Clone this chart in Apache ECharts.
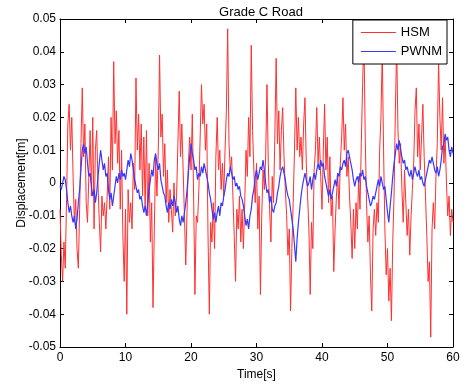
<!DOCTYPE html>
<html>
<head>
<meta charset="utf-8">
<script src="https://cdn.jsdelivr.net/npm/echarts@6/dist/echarts.min.js"></script>
<style>html,body{margin:0;padding:0;background:#fff}#c{width:474px;height:389px}</style>
</head>
<body>
<div id="c"></div>
<script>
var title = 'Grade C Road';
var seriesNames = ['HSM', 'PWNM'];
var timeStep = 0.2; // s
var xTicks = [0, 10, 20, 30, 40, 50, 60];
var yTicks = [-0.05, -0.04, -0.03, -0.02, -0.01, 0, 0.01, 0.02, 0.03, 0.04, 0.05];
// displacement values in millimetres, one per 0.2 s
var hsmMm = [
-8,-22,-30,-18,-26, -5,18,24,10,20, 2,-12,-5,-20,-26, -8,12,29,8,18,
-6,-12,2,16,-4, 20,-14,10,16,0, -12,-21,-4,-10,-6, -14,-4,8,-8,20,
4,37,12,22,6, 16,-8,10,-16,-30, -8,-40,-2,-12,-6, -14,6,-2,32,10,
21,4,18,-4,14, -8,16,-10,6,-18, -6,-38,-14,8,-4, 10,39,14,21,2,
12,-6,4,-12,-2, -8,-15,0,-10,-4, 12,28,8,18,4, -10,-25,-8,6,14,
4,21,-4,-34,-10, -12,-2,14,30,18, 24,10,18,-16,-40, -12,-18,-6,-20,8,
20,4,10,-2,6, -4,10,22,47,12, 4,8,-4,-16,-30, -8,-14,-4,-18,-8,
-20,-6,10,2,20, 8,42,16,4,-6, 6,-14,-4,-34,-10, 4,-2,8,30,6,
-8,-18,2,-6,14, 38,12,22,4,16, 23,8,-2,-10,-22, -14,-39,-20,-6,10,
29,10,20,8,14, 4,18,26,6,-4, -14,-34,-12,-20,4, 10,23,6,14,2,
-8,10,24,4,14, -6,8,-10,-4,-27, -14,-4,2,-8,6, 14,26,10,18,2,
8,-4,-12,-23,-8, -20,-6,-14,2,-8, 12,30,45,14,-6, -18,-10,-28,-39,-14,
-8,-16,-6,-12,10, 20,40,10,-14,-28, -20,-36,-26,-42,-18, -4,22,42,16,6,
12,-2,-12,4,-6, -16,-8,-22,-10,-2, 6,22,29,8,18, 4,14,24,8,-4,
-16,-30,-24,-47,-14, -6,-14,2,12,37, 20,10,26,6,14, 0,-10,-4,-16,-8,
-12];
var pwnmMm = [
-1,-2,0,2,1, -2,-6,-9,-7,-10, -12,-10,-14,-11,-6, -2,4,10,12,9,
11,6,2,3,-1, -4,-2,-6,-3,2, 6,10,7,4,6, 2,3,-2,-5,-3,
-7,-4,-1,2,0, 3,1,4,2,3, 1,4,7,5,9, 7,4,1,-1,-3,
-2,-5,-4,-7,-9, -7,-10,-6,-2,1, 4,2,7,9,6, 4,6,1,-1,-3,
-4,-7,-9,-6,-8, -5,-7,-4,-6,-9, -7,-11,-13,-10,-12, -9,-6,-2,3,8,
12,9,7,4,5, 1,3,2,5,3, 6,4,2,0,-3, -5,-8,-11,-9,-12,
-9,-7,-10,-6,-7, -4,-2,1,3,2, 5,3,1,2,-1, 0,-2,-1,-4,-5,
-7,-10,-13,-11,-14, -10,-8,-4,-2,2, 4,1,3,5,4, 7,4,0,-3,-2,
-6,-4,-8,-9,-7, -6,-3,-1,2,4, 5,3,1,-2,-4, -5,-8,-11,-14,-19,
-24,-17,-12,-8,-4, -1,1,3,1,-1, 0,2,-2,1,3, 1,4,6,4,7,
5,6,2,0,-2, -4,-2,-5,-3,-1, 1,-1,3,2,5, 4,6,7,5,9,
10,8,6,4,1, -1,1,2,0,3, 2,4,1,2,-1, -3,-5,-7,-6,-4,
-5,-3,-1,1,-1, 2,0,-2,-1,-5, -9,-12,-7,-3,2, 6,9,12,10,13,
10,8,6,7,4, 5,3,2,4,1, 3,5,3,2,4, 1,2,0,-1,1,
3,5,7,6,8, 6,4,3,5,2, 4,7,11,12,15, 13,14,10,8,11,
9];

function toPairs(arr) {
  return arr.map(function (v, i) { return [+(i * timeStep).toFixed(2), v / 1000]; });
}
var font = 'Liberation Sans, Arial, Helvetica, sans-serif';
var chart = echarts.init(document.getElementById('c'), null, {renderer: 'canvas'});
function yFmt(v) { return Math.abs(v) < 1e-9 ? '0' : v.toFixed(2); }
var axisCommon = {
  axisLine: {show: true, onZero: false, lineStyle: {color: '#000', width: 1}},
  axisTick: {show: true, inside: true, length: 4, lineStyle: {color: '#000'}},
  splitLine: {show: false}
};
var redColor = '#ff3030';
var blueColor = '#3838ff';
chart.setOption({
  animation: false,
  backgroundColor: '#fff',
  title: {
    text: title, left: 256, top: 1, textAlign: 'center',
    textStyle: {fontFamily: font, fontSize: 13, fontWeight: 'normal', color: '#000'}
  },
  grid: {left: 60, right: 21, top: 19, bottom: 42, containLabel: false},
  legend: {
    data: seriesNames.map(function (n) { return {name: n, icon: 'rect'}; }),
    orient: 'vertical', right: 27, top: 20,
    backgroundColor: '#fff', borderColor: '#000', borderWidth: 1,
    padding: [6, 5, 6, 8], itemGap: 6, itemWidth: 35, itemHeight: 1,
    textStyle: {fontFamily: font, fontSize: 13, color: '#000', lineHeight: 12}
  },
  xAxis: [
    Object.assign({
      type: 'value', min: xTicks[0], max: xTicks[xTicks.length - 1], interval: 10,
      name: 'Time[s]', nameLocation: 'middle', nameGap: 20,
      nameTextStyle: {fontFamily: font, fontSize: 12, color: '#000'},
      axisLabel: {fontFamily: font, fontSize: 12, color: '#000', margin: 5}
    }, axisCommon),
    Object.assign({
      type: 'value', position: 'top', min: xTicks[0], max: xTicks[xTicks.length - 1], interval: 10,
      axisLabel: {show: false}
    }, axisCommon)
  ],
  yAxis: [
    Object.assign({
      type: 'value', min: yTicks[0], max: yTicks[yTicks.length - 1], interval: 0.01,
      name: 'Displacement[m]', nameLocation: 'middle', nameGap: 32, nameMoveOverlap: false,
      nameTextStyle: {fontFamily: font, fontSize: 12, color: '#000'},
      axisLabel: {fontFamily: font, fontSize: 12, color: '#000', margin: 4, formatter: yFmt}
    }, axisCommon),
    Object.assign({
      type: 'value', position: 'right', min: yTicks[0], max: yTicks[yTicks.length - 1], interval: 0.01,
      axisLabel: {show: false}
    }, axisCommon)
  ],
  series: [
    {
      name: seriesNames[0], type: 'line', data: toPairs(hsmMm), symbol: 'none',
      lineStyle: {color: redColor, width: 1}, itemStyle: {color: redColor}
    },
    {
      name: seriesNames[1], type: 'line', data: toPairs(pwnmMm), symbol: 'none',
      lineStyle: {color: blueColor, width: 1.2}, itemStyle: {color: blueColor}
    }
  ]
});
</script>
</body>
</html>
